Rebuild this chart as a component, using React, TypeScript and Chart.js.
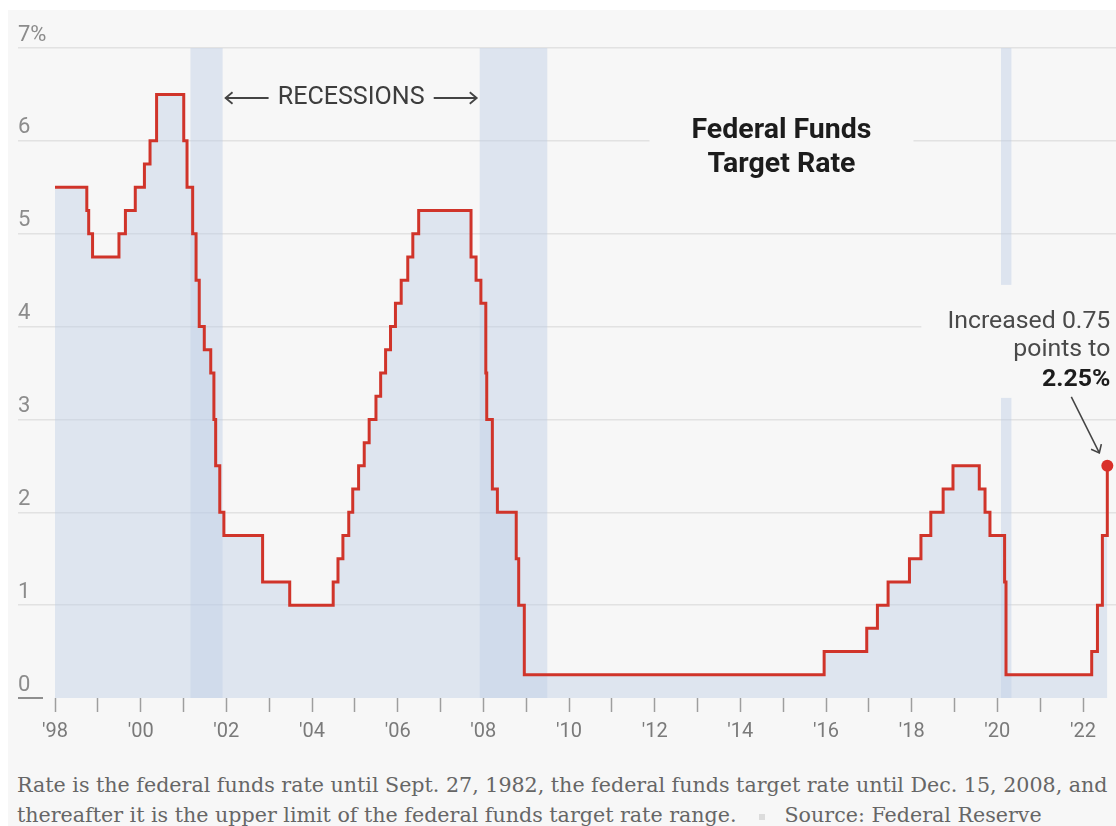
import React, { useEffect, useMemo, useRef } from 'react';
import { Chart, registerables } from 'chart.js';

Chart.register(...registerables);

// ---------- data ----------
const changeDates = [
  '1998-01-01', '1998-09-29', '1998-10-15', '1998-11-17', '1999-06-30', '1999-08-24', '1999-11-16',
  '2000-02-02', '2000-03-21', '2000-05-16', '2001-01-03', '2001-01-31', '2001-03-20', '2001-04-18',
  '2001-05-15', '2001-06-27', '2001-08-21', '2001-09-17', '2001-10-02', '2001-11-06', '2001-12-11',
  '2002-11-06', '2003-06-25', '2004-06-30', '2004-08-10', '2004-09-21', '2004-11-10', '2004-12-14',
  '2005-02-02', '2005-03-22', '2005-05-03', '2005-06-30', '2005-08-09', '2005-09-20', '2005-11-01',
  '2005-12-13', '2006-01-31', '2006-03-28', '2006-05-10', '2006-06-29', '2007-09-18', '2007-10-31',
  '2007-12-11', '2008-01-22', '2008-01-30', '2008-03-18', '2008-04-30', '2008-10-08', '2008-10-29',
  '2008-12-16', '2015-12-16', '2016-12-14', '2017-03-15', '2017-06-14', '2017-12-13', '2018-03-21',
  '2018-06-13', '2018-09-26', '2018-12-19', '2019-07-31', '2019-09-18', '2019-10-30', '2020-03-03',
  '2020-03-15', '2022-03-16', '2022-05-04', '2022-06-15', '2022-07-27',
];
const targetRates = [
  5.5, 5.25, 5.0, 4.75, 5.0, 5.25, 5.5,
  5.75, 6.0, 6.5, 6.0, 5.5, 5.0, 4.5,
  4.0, 3.75, 3.5, 3.0, 2.5, 2.0, 1.75,
  1.25, 1.0, 1.25, 1.5, 1.75, 2.0, 2.25,
  2.5, 2.75, 3.0, 3.25, 3.5, 3.75, 4.0,
  4.25, 4.5, 4.75, 5.0, 5.25, 4.75, 4.5,
  4.25, 3.5, 3.0, 2.25, 2.0, 1.5, 1.0,
  0.25, 0.5, 0.75, 1.0, 1.25, 1.5, 1.75,
  2.0, 2.25, 2.5, 2.25, 2.0, 1.75, 1.25,
  0.25, 0.5, 1.0, 1.75, 2.5,
];
const recessionStarts = ['2001-03-01', '2007-12-01', '2020-02-01'];
const recessionEnds = ['2001-11-30', '2009-06-30', '2020-04-30'];
const xTickYears = [
  1998, 1999, 2000, 2001, 2002, 2003, 2004, 2005, 2006, 2007, 2008, 2009, 2010,
  2011, 2012, 2013, 2014, 2015, 2016, 2017, 2018, 2019, 2020, 2021, 2022,
];
const yTickValues = [0, 1, 2, 3, 4, 5, 6, 7];
const titleLines = ['Federal Funds', 'Target Rate'];
const recessionLabel = 'RECESSIONS';
const noteLines = ['Increased 0.75', 'points to', '2.25%'];
const footnoteLines = [
  'Rate is the federal funds rate until Sept. 27, 1982, the federal funds target rate until Dec. 15, 2008, and',
  'thereafter it is the upper limit of the federal funds target rate range.',
];
const sourceText = 'Source: Federal Reserve';

// ---------- style ----------
const BG = '#f7f7f7';
const LINE = '#d0342a';
const FILL = 'rgba(188,204,228,0.42)';
const BAND = 'rgba(188,204,228,0.45)';
const SANS = 'Roboto, "Liberation Sans", sans-serif';
const SERIF = '"DejaVu Serif", serif';

function toYear(d: string): number {
  const [yy, mm, dd] = d.split('-').map(Number);
  const s = Date.UTC(yy, 0, 1);
  const e = Date.UTC(yy + 1, 0, 1);
  return yy + (Date.UTC(yy, mm - 1, dd) - s) / (e - s);
}

function fitFont(ctx: CanvasRenderingContext2D, text: string, weight: string, width: number): string {
  ctx.font = `${weight} 100px ${SANS}`;
  const w = ctx.measureText(text).width;
  return `${weight} ${(100 * width) / w}px ${SANS}`;
}

function arrowHead(ctx: CanvasRenderingContext2D, x: number, y: number, ang: number, len: number) {
  ctx.beginPath();
  ctx.moveTo(x + len * Math.cos(ang + Math.PI * 0.78), y + len * Math.sin(ang + Math.PI * 0.78));
  ctx.lineTo(x, y);
  ctx.lineTo(x + len * Math.cos(ang - Math.PI * 0.78), y + len * Math.sin(ang - Math.PI * 0.78));
  ctx.stroke();
}

const bandsPlugin = {
  id: 'recessionBands',
  beforeDatasetsDraw(chart: any) {
    const { ctx, chartArea: ca, scales } = chart;
    const x = scales.x;
    ctx.save();
    ctx.fillStyle = BAND;
    recessionStarts.forEach((s, i) => {
      const x0 = x.getPixelForValue(toYear(s));
      const x1 = x.getPixelForValue(toYear(recessionEnds[i]));
      ctx.fillRect(x0, ca.top, x1 - x0, ca.bottom - ca.top);
    });
    ctx.restore();
  },
};

const annotationsPlugin = {
  id: 'annotations',
  afterDatasetsDraw(chart: any) {
    const { ctx, chartArea: ca, scales } = chart;
    const x = scales.x;
    const y = scales.y;
    ctx.save();

    // zero underline
    const y0 = y.getPixelForValue(0);
    ctx.strokeStyle = '#8f8f8f';
    ctx.lineWidth = 2;
    ctx.beginPath();
    ctx.moveTo(ca.left, y0);
    ctx.lineTo(ca.left + 25, y0);
    ctx.stroke();

    // title
    const tx = x.getPixelForValue(2014.96);
    const y6 = y.getPixelForValue(6);
    ctx.fillStyle = BG;
    ctx.fillRect(tx - 132, y6 - 40, 264, 80);
    ctx.fillStyle = '#1c1c1c';
    ctx.textAlign = 'center';
    ctx.textBaseline = 'middle';
    ctx.font = fitFont(ctx, titleLines[0], 'bold', 180);
    ctx.fillText(titleLines[0], tx, y6 - 10);
    ctx.fillText(titleLines[1], tx, y6 + 24);

    // recessions label
    const b1 = x.getPixelForValue(toYear(recessionEnds[0]));
    const b2 = x.getPixelForValue(toYear(recessionStarts[1]));
    const rc = (b1 + b2) / 2;
    const ry = ca.top + 50;
    ctx.font = fitFont(ctx, recessionLabel, 'normal', 147);
    ctx.fillStyle = '#3d3d3d';
    ctx.fillText(recessionLabel, rc, ry);
    ctx.strokeStyle = '#444';
    ctx.lineWidth = 1.8;
    ctx.beginPath();
    ctx.moveTo(b1 + 3, ry);
    ctx.lineTo(b1 + 46, ry);
    ctx.moveTo(b2 - 46, ry);
    ctx.lineTo(b2 - 3, ry);
    ctx.stroke();
    arrowHead(ctx, b1 + 3, ry, Math.PI, 9);
    arrowHead(ctx, b2 - 3, ry, 0, 9);

    // right-hand note
    const meta = chart.getDatasetMeta(0);
    const last = meta.data[meta.data.length - 1];
    const px = last.x;
    const py = last.y;
    ctx.fillStyle = BG;
    ctx.fillRect(px - 186, py - 181, 200, 113);
    const right = px + 3;
    ctx.textAlign = 'right';
    ctx.fillStyle = '#4a4a4a';
    const noteFont = fitFont(ctx, noteLines[0], 'normal', 163);
    ctx.font = noteFont;
    ctx.fillText(noteLines[0], right, py - 144);
    ctx.fillText(noteLines[1], right, py - 116);
    ctx.font = noteFont.replace('normal', 'bold');
    ctx.fillStyle = '#1c1c1c';
    ctx.fillText(noteLines[2], right, py - 86);
    ctx.strokeStyle = '#444';
    ctx.lineWidth = 1.6;
    const sx = px - 36, sy = py - 69, ex = px - 8, ey = py - 13;
    ctx.beginPath();
    ctx.moveTo(sx, sy);
    ctx.lineTo(ex, ey);
    ctx.stroke();
    arrowHead(ctx, ex, ey, Math.atan2(ey - sy, ex - sx), 9);

    ctx.restore();
  },
};

export default function App() {
  const canvasRef = useRef<HTMLCanvasElement | null>(null);

  const footSize = useMemo(() => {
    const c = document.createElement('canvas').getContext('2d') as CanvasRenderingContext2D;
    c.font = `100px ${SERIF}`;
    return (100 * 1091) / c.measureText(footnoteLines[0]).width;
  }, []);

  useEffect(() => {
    if (!canvasRef.current) return;
    const points = changeDates.map((d, i) => ({ x: toYear(d), y: targetRates[i] }));
    const lastIdx = points.length - 1;
    const chart = new Chart(canvasRef.current, {
      type: 'line',
      data: {
        datasets: [
          {
            data: points,
            stepped: true,
            borderColor: LINE,
            borderWidth: 3,
            borderJoinStyle: 'miter',
            fill: 'origin',
            backgroundColor: FILL,
            pointRadius: (c: any) => (c.dataIndex === lastIdx ? 6 : 0),
            pointBackgroundColor: '#d9302a',
            pointBorderWidth: 0,
            pointHoverRadius: 0,
            clip: false,
          } as any,
        ],
      },
      options: {
        animation: false,
        responsive: false,
        maintainAspectRatio: false,
        events: [],
        layout: { autoPadding: false, padding: { top: 38, left: 10, right: 0, bottom: 0 } },
        plugins: { legend: { display: false }, tooltip: { enabled: false } },
        scales: {
          x: {
            type: 'linear',
            min: 1997.136,
            max: 2022.77,
            afterBuildTicks: (s: any) => {
              s.ticks = xTickYears.map((v) => ({ value: v }));
            },
            afterFit: (s: any) => {
              s.height = 52;
            },
            grid: {
              drawOnChartArea: false,
              drawTicks: true,
              tickLength: 14,
              tickColor: '#9e9e9e',
              tickWidth: 1.5,
            },
            border: { display: false },
            ticks: {
              autoSkip: false,
              maxRotation: 0,
              padding: 8,
              color: '#7a7a7a',
              font: { family: SANS, size: 20 },
              callback: (v: any) => (Number(v) % 2 === 0 ? "'" + String(v).slice(2) : ''),
            },
          },
          y: {
            min: 0,
            max: 7,
            afterBuildTicks: (s: any) => {
              s.ticks = yTickValues.map((v) => ({ value: v }));
            },
            afterFit: (s: any) => {
              s.width = 0;
            },
            grid: {
              drawTicks: false,
              color: (c: any) => (c.tick && c.tick.value === 0 ? 'rgba(0,0,0,0)' : '#e2e2e2'),
              lineWidth: 1.5,
            },
            border: { display: false },
            ticks: {
              mirror: true,
              padding: 0,
              labelOffset: -13,
              color: '#8c8c8c',
              font: { family: SANS, size: 22 },
              callback: (v: any) => (Number(v) === 7 ? '7%' : String(v)),
            },
          },
        },
      } as any,
      plugins: [bandsPlugin, annotationsPlugin],
    });
    return () => chart.destroy();
  }, []);

  return (
    <div
      style={{
        position: 'fixed',
        left: 8,
        top: 10,
        width: 1108,
        height: 816,
        background: BG,
        overflow: 'hidden',
      }}
    >
      <canvas ref={canvasRef} width={1108} height={740} style={{ display: 'block' }} />
      <div
        style={{
          position: 'absolute',
          left: 9,
          top: 760,
          fontFamily: SERIF,
          fontSize: footSize,
          color: '#666',
          lineHeight: '30px',
          whiteSpace: 'nowrap',
        }}
      >
        <div>{footnoteLines[0]}</div>
        <div>
          {footnoteLines[1]}
          <span
            style={{
              display: 'inline-block',
              width: 6,
              height: 6,
              background: '#dcdcdc',
              margin: '0 20px 0 22px',
              verticalAlign: 'middle',
            }}
          />
          {sourceText}
        </div>
      </div>
    </div>
  );
}
